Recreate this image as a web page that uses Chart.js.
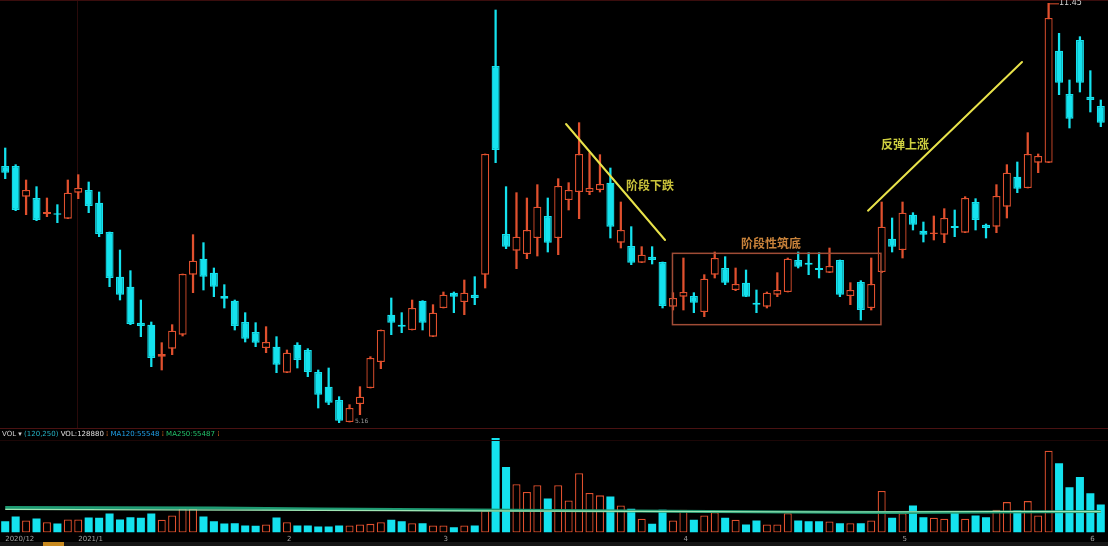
<!DOCTYPE html>
<html><head><meta charset="utf-8">
<script src="https://cdn.jsdelivr.net/npm/chart.js@4.4.1/dist/chart.umd.min.js"></script>
<style>
html,body{margin:0;padding:0;background:#000;width:1108px;height:546px;overflow:hidden;position:relative;}
canvas{position:absolute;left:0;}
#price{top:0;}
#vol{top:436px;}
.ln{position:absolute;left:0;width:1108px;}
.note{position:absolute;font-family:"Noto Sans CJK SC";font-size:12px;font-weight:bold;line-height:14px;white-space:nowrap;}
.hdr{position:absolute;top:430px;left:2px;font-family:"DejaVu Sans";font-size:7px;line-height:9px;white-space:nowrap;}
.tiny{position:absolute;font-family:"DejaVu Sans";white-space:nowrap;}
</style></head><body>
<canvas id="price" width="1108" height="428"></canvas>
<canvas id="vol" width="1108" height="109"></canvas>
<div class="ln" style="top:0;height:1px;background:#3a0d0d"></div>
<div class="ln" style="top:428px;height:1px;background:#4a1212"></div>
<div class="ln" style="top:440px;height:1px;background:#1c0606"></div>
<div class="ln" style="top:542px;height:4px;background:#161616"></div>
<div style="position:absolute;left:43px;top:542px;width:21px;height:4px;background:#c8891e"></div>
<div class="hdr"><span style="color:#d0d0d0">VOL ▾ </span><span style="color:#25b4c6">(120,250)</span> <span style="color:#e0e0e0">VOL:128880</span> <span style="color:#e06a20">⁞</span> <span style="color:#1fa0e8">MA120:55548</span> <span style="color:#e06a20">⁞</span> <span style="color:#22c26a">MA250:55487</span> <span style="color:#e06a20">⁞</span></div>
<div class="note" style="left:626px;top:178px;color:#c9c23a">阶段下跌</div>
<div class="note" style="left:741px;top:236px;color:#c8823a">阶段性筑底</div>
<div class="note" style="left:881px;top:137px;color:#cfd040">反弹上涨</div>
<div class="tiny" style="left:1059px;top:-2px;font-size:8px;color:#d0d0d0">11.45</div>
<div class="tiny" style="left:355px;top:417px;font-size:6px;color:#9a9a9a">5.16</div>
<script>
// ---- data ----
const opens=[9.01,9.01,8.55,8.53,8.29,8.29,8.22,8.61,8.65,8.46,
8.02,7.35,7.20,6.66,6.63,6.15,6.27,6.48,7.38,7.62,
7.41,7.06,6.99,6.67,6.52,6.28,6.30,5.91,6.33,6.25,
5.92,5.70,5.50,5.17,5.44,5.68,6.07,6.78,6.63,6.55,
6.99,6.45,6.88,7.11,6.97,7.08,7.38,10.51,7.99,7.74,
7.69,7.93,8.26,7.93,8.50,8.62,8.62,8.65,8.76,7.86,
7.81,7.56,7.65,7.57,6.90,7.05,7.06,6.82,7.38,7.48,
7.15,7.26,6.96,6.90,7.08,7.12,7.60,7.56,7.48,7.41,
7.60,7.06,7.27,6.88,7.42,7.92,7.75,8.28,8.04,7.99,
7.98,8.11,8.01,8.47,8.13,8.10,8.40,8.85,8.68,9.06,
9.06,10.74,10.09,10.90,10.05,9.91];
const highs=[9.28,9.03,8.80,8.70,8.53,8.43,8.80,8.88,8.77,8.62,
8.02,7.75,7.44,7.00,6.67,6.36,6.63,7.39,7.98,7.86,
7.48,7.23,7.00,6.81,6.66,6.60,6.45,6.25,6.36,6.27,
5.95,5.98,5.55,5.43,5.70,6.15,6.55,7.03,6.81,7.00,
6.99,6.93,7.12,7.12,7.30,7.35,9.19,11.35,8.70,8.61,
8.53,8.73,8.53,8.82,8.76,9.66,9.21,9.18,8.98,8.47,
8.10,7.80,7.80,7.57,7.11,7.63,7.11,7.38,7.72,7.65,
7.48,7.45,7.15,7.12,7.41,7.63,7.72,7.71,7.71,7.78,
7.60,7.26,7.29,7.63,8.47,8.23,8.47,8.31,8.17,8.26,
8.37,8.35,8.55,8.52,8.14,8.73,9.03,9.07,9.51,9.19,
11.45,11.00,10.30,10.95,10.44,10.00];
const lows=[8.82,8.34,8.28,8.19,8.25,8.16,8.22,8.52,8.31,7.95,
7.20,7.00,6.63,6.45,6.00,5.95,6.18,6.46,7.11,7.15,
7.05,6.88,6.55,6.37,6.30,6.21,5.91,5.91,5.98,5.85,
5.38,5.43,5.16,5.17,5.28,5.68,5.97,6.48,6.51,6.55,
6.55,6.45,6.88,6.81,6.78,6.93,7.18,9.06,7.77,7.47,
7.62,7.66,7.72,7.68,8.35,8.22,8.58,8.62,7.93,7.78,
7.53,7.56,7.54,6.88,6.85,6.85,6.81,6.75,7.33,7.23,
7.14,7.05,6.81,6.88,7.05,7.12,7.48,7.38,7.33,7.41,
7.05,6.93,6.70,6.85,7.41,7.72,7.63,8.05,7.87,7.90,
7.86,7.95,8.01,8.05,7.93,8.01,8.23,8.61,8.68,8.91,
9.06,10.08,9.58,10.12,9.82,9.60];
const closes=[8.91,8.35,8.65,8.20,8.32,8.28,8.61,8.68,8.41,7.99,
7.33,7.08,6.64,6.61,6.13,6.19,6.54,7.39,7.59,7.35,
7.20,7.02,6.61,6.42,6.36,6.37,6.03,6.21,6.10,5.92,
5.58,5.46,5.19,5.38,5.55,6.13,6.55,6.66,6.60,6.88,
6.66,6.81,7.08,7.05,7.11,7.03,9.19,9.25,7.80,7.95,
8.05,8.40,7.86,8.71,8.65,9.19,8.68,8.74,8.10,8.05,
7.56,7.68,7.60,6.91,7.03,7.12,6.96,7.32,7.63,7.26,
7.24,7.05,6.93,7.11,7.15,7.62,7.50,7.53,7.45,7.51,
7.08,7.15,6.85,7.24,8.10,7.80,8.31,8.13,7.98,8.01,
8.23,8.08,8.53,8.20,8.08,8.56,8.91,8.67,9.19,9.16,
11.23,10.26,9.72,10.26,10.00,9.66];
const volumes=[29900,42400,31800,37100,27300,23900,34500,34500,39800,39000,
50400,34500,40500,39000,50400,33700,45100,63600,62800,42400,
29900,23900,24300,18600,18200,21200,39800,27300,18600,18400,
15900,16200,18600,18900,21200,23100,27300,33700,29900,24600,
24600,18600,18600,14000,18600,18600,58300,249100,173000,127200,
106800,124600,90100,124600,84800,156400,104100,98100,95400,71600,
62800,36300,23100,60200,31800,60200,33700,45100,53800,39000,
33700,21200,31800,21200,21500,51100,31800,29900,29900,29200,
24600,24600,24600,31800,109400,39000,51100,71600,40500,39000,
36300,56400,36300,45100,40500,60200,80300,58300,82900,45100,
215400,182900,119300,146500,103400,74200];
const ma120Idx=[0,20,30,45,60,75,85,95,105];
const ma120Val=[66250,64900,62300,59600,57000,54300,53000,54300,55548];
const ma250Idx=[0,30,46,60,80,95,105];
const ma250Val=[60950,58300,57000,55650,54300,55600,55487];
const tickIdx=[0,7,27,42,65,86,104];
const tickText=['2020/12','2021/1','2','3','4','5','6'];
// annotation anchors in data space [index, price]
const trendDown=[[53.75,9.64],[63.24,7.90]];
const trendUp=[[82.69,8.34],[97.45,10.57]];
const baseBox=[[63.95,7.70],[83.93,6.63]];

// ---- styling ----
const RED='#e0502e', CYAN='#14e2ee';
const n=opens.length;
const labels=opens.map((_,i)=>String(i));
const up=closes.map((c,i)=>c>=opens[i]);
const sparse=(idx,val)=>{const a=new Array(n).fill(null);idx.forEach((k,j)=>{a[k]=val[j];});return a;};

const annot={
  id:'annot',
  beforeDatasetsDraw(chart){
    const {ctx,scales:{x},chartArea}=chart;
    const px=Math.round(x.getPixelForValue(tickIdx[1]))-0.5;
    ctx.save();ctx.strokeStyle='#2a0a0a';ctx.lineWidth=1;
    ctx.beginPath();ctx.moveTo(px,chartArea.top);ctx.lineTo(px,chartArea.bottom);ctx.stroke();ctx.restore();
  },
  afterDatasetsDraw(chart){
    const {ctx,scales:{x,y}}=chart;
    ctx.save();
    ctx.strokeStyle='#e8e24a';ctx.lineWidth=2;ctx.lineCap='round';
    [trendDown,trendUp].forEach(s=>{
      ctx.beginPath();
      ctx.moveTo(x.getPixelForValue(s[0][0]),y.getPixelForValue(s[0][1]));
      ctx.lineTo(x.getPixelForValue(s[1][0]),y.getPixelForValue(s[1][1]));
      ctx.stroke();
    });
    ctx.strokeStyle='#a04c36';ctx.lineWidth=1.5;
    const x0=x.getPixelForValue(baseBox[0][0]),y0=y.getPixelForValue(baseBox[0][1]);
    const x1=x.getPixelForValue(baseBox[1][0]),y1=y.getPixelForValue(baseBox[1][1]);
    ctx.strokeRect(x0,y0,x1-x0,y1-y0);
    const hmax=Math.max(...highs),hi=highs.indexOf(hmax);
    const hx=x.getPixelForValue(hi),hy=y.getPixelForValue(hmax);
    ctx.strokeStyle=RED;ctx.lineWidth=1;
    ctx.beginPath();ctx.moveTo(hx,hy+0.5);ctx.lineTo(hx+10,hy+0.5);ctx.stroke();
    ctx.restore();
  }
};

Chart.defaults.font.family='DejaVu Sans';
new Chart(document.getElementById('price'),{
  type:'bar',
  data:{labels,datasets:[
    {label:'body',data:opens.map((o,i)=>[o,closes[i]]),grouped:false,
     backgroundColor:up.map(u=>u?'#000':CYAN),borderColor:up.map(u=>u?RED:CYAN),
     borderWidth:1.3,borderSkipped:false,barPercentage:0.77,categoryPercentage:1,minBarLength:1.5},
    {label:'wick',data:lows.map((l,i)=>[l,highs[i]]),grouped:false,
     backgroundColor:up.map(u=>u?RED:CYAN),borderWidth:0,barThickness:1.6}
  ]},
  options:{responsive:false,animation:false,devicePixelRatio:1,
    layout:{padding:{left:0,right:2,top:0,bottom:0}},
    plugins:{legend:{display:false},tooltip:{enabled:false}},
    scales:{x:{display:false,offset:true},y:{display:false,min:5.08,max:11.5}}},
  plugins:[annot]
});

new Chart(document.getElementById('vol'),{
  type:'bar',
  data:{labels,datasets:[
    {type:'line',label:'MA250',data:sparse(ma250Idx,ma250Val),borderColor:'#9fe6b4',borderWidth:1.2,pointRadius:0,spanGaps:true,tension:0},
    {type:'line',label:'MA120',data:sparse(ma120Idx,ma120Val),borderColor:'#1e9a72',borderWidth:3,pointRadius:0,spanGaps:true,tension:0},
    {label:'VOL',data:volumes,backgroundColor:up.map(u=>u?'#000':CYAN),borderColor:up.map(u=>u?RED:CYAN),
     borderWidth:up.map(u=>u?1.3:0),borderSkipped:false,barPercentage:0.77,categoryPercentage:1}
  ]},
  options:{responsive:false,animation:false,devicePixelRatio:1,
    layout:{padding:{left:0,right:2,top:0,bottom:0}},
    plugins:{legend:{display:false},tooltip:{enabled:false}},
    scales:{
      x:{offset:true,grid:{display:false,drawTicks:false},border:{display:false},
         ticks:{autoSkip:false,maxRotation:0,minRotation:0,align:'start',padding:2,color:'#a0a0a0',font:{size:7},
           callback:(v,i)=>{const k=tickIdx.indexOf(i);return k>=0?tickText[k]:'';}}},
      y:{display:false,min:0,max:254400}}}
});
</script>
</body></html>
